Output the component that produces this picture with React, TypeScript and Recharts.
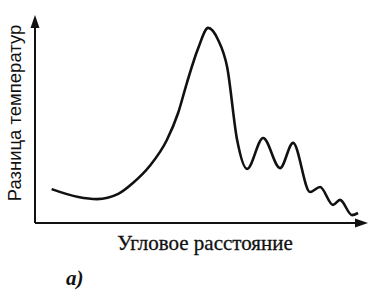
import React from "react";
import { LineChart, Line, XAxis, YAxis, ReferenceDot, ReferenceLine } from "recharts";

// angular distance (arbitrary units, 0..100 along the axis)
const angle = [5, 13, 18.6, 25, 29.4, 34.5, 39.6, 43, 45.6, 49, 52, 55, 57.7, 60.7, 63.7, 68.5, 73.6, 77.5, 82.6, 85.6, 89.5, 91.6, 95.2, 97];
// temperature difference (arbitrary units, 0..100)
const tempDiff = [16.3, 12.5, 11.5, 14, 19.2, 27.5, 39.9, 53, 67.3, 84, 93.8, 88, 75, 39.9, 26, 40.9, 26.4, 38.5, 14.9, 17.3, 8.7, 11.1, 3.8, 4.8];

const data = angle.map((a, i) => ({ a, t: tempDiff[i] }));

const INK = "#111";

const ArrowRight = (props: any) => {
  const { cx, cy } = props;
  return <polygon points={`${cx},${cy} ${cx - 13},${cy - 4.5} ${cx - 13},${cy + 4.5}`} fill={INK} />;
};

const ArrowUp = (props: any) => {
  const { cx, cy } = props;
  return <polygon points={`${cx},${cy} ${cx - 4.5},${cy + 13} ${cx + 4.5},${cy + 13}`} fill={INK} />;
};

export default function App() {
  return (
    <div style={{ position: "absolute", left: 0, top: 0, width: 379, height: 300, background: "#fff" }}>
      <LineChart
        width={379}
        height={300}
        data={data}
        margin={{ top: 15, right: 11, bottom: 77, left: 35 }}
      >
        <XAxis dataKey="a" type="number" domain={[0, 100]} hide />
        <YAxis type="number" domain={[0, 100]} hide />
        <ReferenceLine
          segment={[{ x: 0, y: 0 }, { x: 97, y: 0 }]}
          stroke={INK}
          strokeWidth={2}
          ifOverflow="visible"
        />
        <ReferenceLine
          segment={[{ x: 0, y: 0 }, { x: 0, y: 95 }]}
          stroke={INK}
          strokeWidth={2}
          ifOverflow="visible"
        />
        <Line
          type="monotone"
          dataKey="t"
          stroke={INK}
          strokeWidth={2.6}
          dot={false}
          activeDot={false}
          isAnimationActive={false}
        />
        <ReferenceDot x={100} y={0} ifOverflow="visible" shape={ArrowRight} />
        <ReferenceDot x={0} y={100} ifOverflow="visible" shape={ArrowUp} />
      </LineChart>
      <div
        style={{
          position: "absolute",
          left: 15 - 110,
          top: 113 - 12,
          width: 220,
          height: 24,
          lineHeight: "24px",
          textAlign: "center",
          transform: "rotate(-90deg)",
          fontFamily: "'Liberation Sans', Arial, sans-serif",
          fontSize: 18.5,
          color: INK,
          whiteSpace: "nowrap",
        }}
      >
        Разница температур
      </div>
      <div
        style={{
          position: "absolute",
          left: 205 - 110,
          top: 231,
          width: 220,
          textAlign: "center",
          fontFamily: "'Liberation Serif', 'Times New Roman', serif",
          fontSize: 21,
          color: INK,
          whiteSpace: "nowrap",
          WebkitTextStroke: "0.3px #111",
        }}
      >
        Угловое расстояние
      </div>
      <div
        style={{
          position: "absolute",
          left: 66,
          top: 266,
          fontFamily: "'Liberation Serif', 'Times New Roman', serif",
          fontStyle: "italic",
          fontWeight: 600,
          fontSize: 21,
          color: INK,
        }}
      >
        а)
      </div>
    </div>
  );
}
